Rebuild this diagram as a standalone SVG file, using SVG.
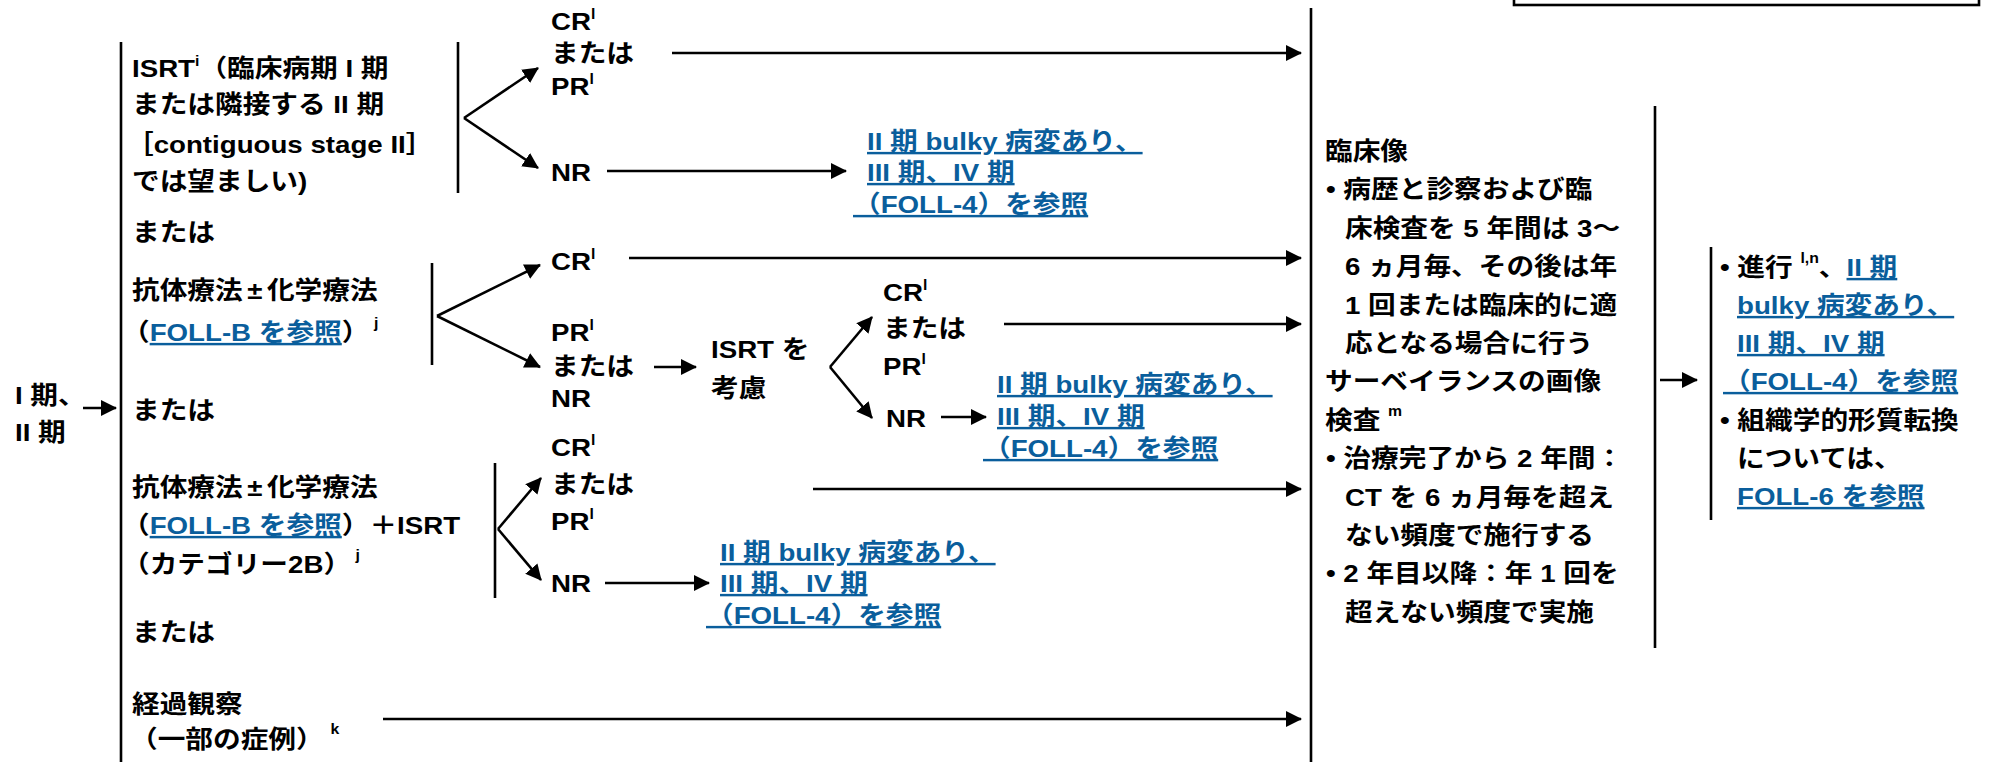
<svg xmlns="http://www.w3.org/2000/svg" width="1992" height="762" viewBox="0 0 1992 762">
<style>
.t { font-family: "Liberation Sans", "Noto Sans CJK JP", sans-serif; font-size: 24.5px; font-weight: bold; fill: #000; }
.lk { fill: #0a5e9c; text-decoration: underline; }
.sup { font-size: 14px; }
.ln { stroke: #000; stroke-width: 2.6; fill: none; }
.ar { stroke: #000; stroke-width: 2.6; fill: none; marker-end: url(#ah); }
</style>
<defs>
<marker id="ah" markerUnits="userSpaceOnUse" markerWidth="17" markerHeight="16" refX="15" refY="8" orient="auto">
<path d="M0,0 L16,8 L0,16 z" fill="#000"/>
</marker>
</defs>
<rect width="1992" height="762" fill="#fff"/>

<g id="legend-box">
<rect x="1514" y="-10" width="465" height="15" fill="none" stroke="#000" stroke-width="2.6"/>
</g>

<g id="start">
<text class="t" transform="matrix(1.13 0 0 1 15 404)">I 期、</text>
<text class="t" transform="matrix(1.13 0 0 1 15 441)">II 期</text>
</g>

<g id="opt-isrt">
<text class="t" transform="matrix(1.13 0 0 1 132 77)">ISRT<tspan class="sup" dy="-11">i</tspan><tspan dy="11">（臨床病期 I 期</tspan></text>
<text class="t" transform="matrix(1.13 0 0 1 132 113)">または隣接する II 期</text>
<text class="t" transform="matrix(1.13 0 0 1 126 153)">［contiguous stage II］</text>
<text class="t" transform="matrix(1.13 0 0 1 132 190)">では望ましい)</text>
</g>
<g id="or1"><text class="t" transform="matrix(1.13 0 0 1 132 241)">または</text></g>

<g id="isrt-crpr">
<text class="t" transform="matrix(1.13 0 0 1 551 30)">CR<tspan class="sup" dy="-11">l</tspan></text>
<text class="t" transform="matrix(1.13 0 0 1 551 62)">または</text>
<text class="t" transform="matrix(1.13 0 0 1 551 95)">PR<tspan class="sup" dy="-11">l</tspan></text>
</g>
<g id="isrt-nr"><text class="t" transform="matrix(1.13 0 0 1 551 181)">NR</text></g>
<g id="link1">
<text class="t lk" transform="matrix(1.13 0 0 1 867 150)">II 期 bulky 病変あり、</text>
<text class="t lk" transform="matrix(1.13 0 0 1 867 181)">III 期、IV 期</text>
<text class="t lk" transform="matrix(1.13 0 0 1 853 213)">（FOLL-4）を参照</text>
</g>

<g id="opt-ab">
<text class="t" transform="matrix(1.13 0 0 1 132 299)">抗体療法<tspan dx="4">±</tspan><tspan dx="4">化学療法</tspan></text>
<text class="t" transform="matrix(1.13 0 0 1 122 341)">（<tspan class="lk">FOLL-B を参照</tspan>）<tspan class="sup" dx="4" dy="-13">j</tspan></text>
</g>
<g id="ab-cr"><text class="t" transform="matrix(1.13 0 0 1 551 270)">CR<tspan class="sup" dy="-11">l</tspan></text></g>
<g id="ab-prnr">
<text class="t" transform="matrix(1.13 0 0 1 551 341)">PR<tspan class="sup" dy="-11">l</tspan></text>
<text class="t" transform="matrix(1.13 0 0 1 551 375)">または</text>
<text class="t" transform="matrix(1.13 0 0 1 551 407)">NR</text>
</g>
<g id="consider-isrt">
<text class="t" transform="matrix(1.13 0 0 1 711 358)">ISRT を</text>
<text class="t" transform="matrix(1.13 0 0 1 711 397)">考慮</text>
</g>
<g id="c-crpr">
<text class="t" transform="matrix(1.13 0 0 1 883 301)">CR<tspan class="sup" dy="-11">l</tspan></text>
<text class="t" transform="matrix(1.13 0 0 1 883 337)">または</text>
<text class="t" transform="matrix(1.13 0 0 1 883 375)">PR<tspan class="sup" dy="-11">l</tspan></text>
</g>
<g id="c-nr"><text class="t" transform="matrix(1.13 0 0 1 886 427)">NR</text></g>
<g id="link2">
<text class="t lk" transform="matrix(1.13 0 0 1 997 393)">II 期 bulky 病変あり、</text>
<text class="t lk" transform="matrix(1.13 0 0 1 997 425)">III 期、IV 期</text>
<text class="t lk" transform="matrix(1.13 0 0 1 983 457)">（FOLL-4）を参照</text>
</g>

<g id="or2"><text class="t" transform="matrix(1.13 0 0 1 132 419)">または</text></g>

<g id="opt-abisrt">
<text class="t" transform="matrix(1.13 0 0 1 132 496)">抗体療法<tspan dx="4">±</tspan><tspan dx="4">化学療法</tspan></text>
<text class="t" transform="matrix(1.13 0 0 1 122 534)">（<tspan class="lk">FOLL-B を参照</tspan>）＋ISRT</text>
<text class="t" transform="matrix(1.13 0 0 1 122 573)">（カテゴリー2B）<tspan class="sup" dx="4" dy="-13">j</tspan></text>
</g>
<g id="abisrt-crpr">
<text class="t" transform="matrix(1.13 0 0 1 551 456)">CR<tspan class="sup" dy="-11">l</tspan></text>
<text class="t" transform="matrix(1.13 0 0 1 551 493)">または</text>
<text class="t" transform="matrix(1.13 0 0 1 551 530)">PR<tspan class="sup" dy="-11">l</tspan></text>
</g>
<g id="abisrt-nr"><text class="t" transform="matrix(1.13 0 0 1 551 592)">NR</text></g>
<g id="link3">
<text class="t lk" transform="matrix(1.13 0 0 1 720 561)">II 期 bulky 病変あり、</text>
<text class="t lk" transform="matrix(1.13 0 0 1 720 592)">III 期、IV 期</text>
<text class="t lk" transform="matrix(1.13 0 0 1 706 624)">（FOLL-4）を参照</text>
</g>

<g id="or3"><text class="t" transform="matrix(1.13 0 0 1 132 641)">または</text></g>
<g id="opt-observe">
<text class="t" transform="matrix(1.13 0 0 1 132 713)">経過観察</text>
<text class="t" transform="matrix(1.13 0 0 1 130 748)">（一部の症例）<tspan class="sup" dx="6" dy="-14">k</tspan></text>
</g>

<g id="followup">
<text class="t" transform="matrix(1.13 0 0 1 1325 160)">臨床像</text>
<text class="t" transform="matrix(1.13 0 0 1 1326 198)">• 病歴と診察および臨</text>
<text class="t" transform="matrix(1.13 0 0 1 1345 237)">床検査を 5 年間は 3～</text>
<text class="t" transform="matrix(1.13 0 0 1 1345 275)">6 ヵ月毎、その後は年</text>
<text class="t" transform="matrix(1.13 0 0 1 1345 314)">1 回または臨床的に適</text>
<text class="t" transform="matrix(1.13 0 0 1 1345 352)">応となる場合に行う</text>
<text class="t" transform="matrix(1.13 0 0 1 1325 390)">サーベイランスの画像</text>
<text class="t" transform="matrix(1.13 0 0 1 1325 429)">検査 <tspan class="sup" dy="-13">m</tspan></text>
<text class="t" transform="matrix(1.13 0 0 1 1326 467)">• 治療完了から 2 年間：</text>
<text class="t" transform="matrix(1.13 0 0 1 1345 506)">CT を 6 ヵ月毎を超え</text>
<text class="t" transform="matrix(1.13 0 0 1 1345 544)">ない頻度で施行する</text>
<text class="t" transform="matrix(1.13 0 0 1 1326 582)">• 2 年目以降：年 1 回を</text>
<text class="t" transform="matrix(1.13 0 0 1 1345 621)">超えない頻度で実施</text>
</g>

<g id="progression">
<text class="t" transform="matrix(1.13 0 0 1 1720 276)">• 進行 <tspan class="sup" dy="-13">l,n</tspan><tspan dy="13">、</tspan><tspan class="lk">II 期</tspan></text>
<text class="t lk" transform="matrix(1.13 0 0 1 1737 314)">bulky 病変あり、</text>
<text class="t lk" transform="matrix(1.13 0 0 1 1737 352)">III 期、IV 期</text>
<text class="t lk" transform="matrix(1.13 0 0 1 1723 390)">（FOLL-4）を参照</text>
<text class="t" transform="matrix(1.13 0 0 1 1720 429)">• 組織学的形質転換</text>
<text class="t" transform="matrix(1.13 0 0 1 1737 467)">については、</text>
<text class="t lk" transform="matrix(1.13 0 0 1 1737 505)">FOLL-6 を参照</text>
</g>

<g id="connectors">
<line class="ar" x1="83" y1="408" x2="116" y2="408"/>
<line class="ln" x1="121" y1="42" x2="121" y2="762"/>
<line class="ln" x1="458" y1="42" x2="458" y2="193"/>
<line class="ar" x1="464" y1="118" x2="538" y2="68"/>
<line class="ar" x1="464" y1="118" x2="538" y2="168"/>
<line class="ar" x1="672" y1="53" x2="1301" y2="53"/>
<line class="ar" x1="607" y1="171" x2="846" y2="171"/>

<line class="ln" x1="432" y1="263" x2="432" y2="365"/>
<line class="ar" x1="437" y1="316" x2="540" y2="265"/>
<line class="ar" x1="437" y1="316" x2="540" y2="367"/>
<line class="ar" x1="629" y1="258" x2="1301" y2="258"/>
<line class="ar" x1="654" y1="367" x2="696" y2="367"/>
<line class="ar" x1="830" y1="367" x2="872" y2="317"/>
<line class="ar" x1="830" y1="367" x2="872" y2="418"/>
<line class="ar" x1="1004" y1="324" x2="1301" y2="324"/>
<line class="ar" x1="941" y1="417" x2="986" y2="417"/>

<line class="ln" x1="495" y1="463" x2="495" y2="598"/>
<line class="ar" x1="498" y1="529" x2="541" y2="478"/>
<line class="ar" x1="498" y1="529" x2="541" y2="580"/>
<line class="ar" x1="813" y1="489" x2="1301" y2="489"/>
<line class="ar" x1="605" y1="583" x2="709" y2="583"/>

<line class="ar" x1="383" y1="719" x2="1301" y2="719"/>

<line class="ln" x1="1311" y1="8" x2="1311" y2="762"/>
<line class="ln" x1="1655" y1="106" x2="1655" y2="648"/>
<line class="ar" x1="1660" y1="380" x2="1697" y2="380"/>
<line class="ln" x1="1711" y1="247" x2="1711" y2="520"/>
</g>
</svg>
